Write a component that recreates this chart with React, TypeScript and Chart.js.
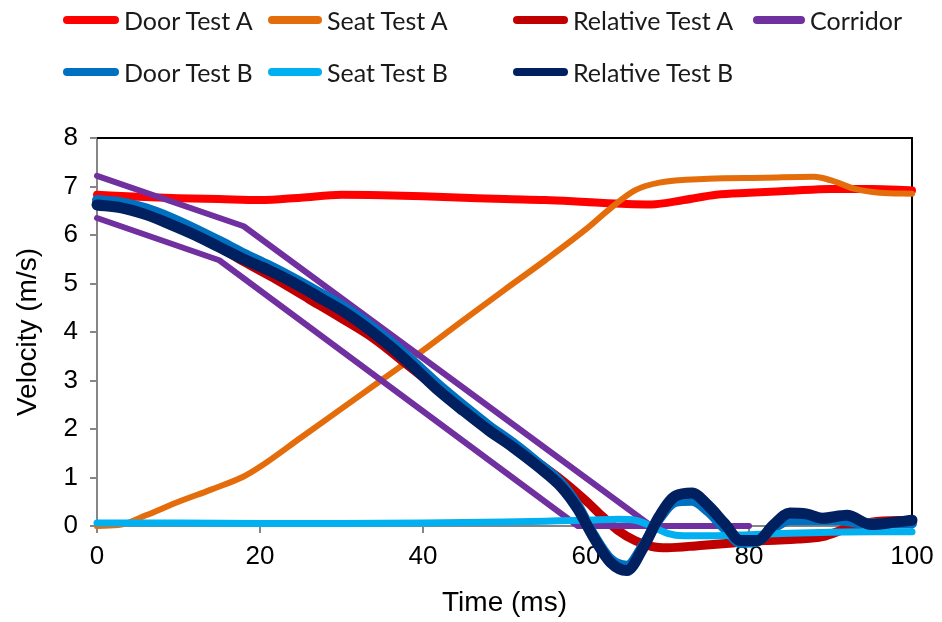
import React, { useEffect, useRef } from "react";
import { Chart, registerables } from "chart.js";

Chart.register(...registerables);

// ---- Data (time in ms, velocity in m/s) ----
const timeTicks = [0, 20, 40, 60, 80, 100];
const velocityTicks = [0, 1, 2, 3, 4, 5, 6, 7, 8];

const doorATime = [0, 5, 10, 15, 20, 25, 30, 35, 40, 45, 50, 55, 60, 65, 68, 72, 76, 80, 85, 90, 95, 100];
const doorAVel = [6.83, 6.79, 6.76, 6.74, 6.72, 6.77, 6.83, 6.82, 6.8, 6.77, 6.74, 6.72, 6.68, 6.64, 6.63, 6.72, 6.83, 6.87, 6.91, 6.95, 6.95, 6.92];

const seatATime = [0, 3, 6, 10, 14, 18, 20, 25, 30, 35, 40, 45, 50, 55, 60, 63, 66, 69, 75, 82, 88, 90, 93, 96, 100];
const seatAVel = [0, 0.03, 0.22, 0.5, 0.75, 1.02, 1.22, 1.82, 2.42, 3.02, 3.62, 4.25, 4.87, 5.48, 6.12, 6.55, 6.92, 7.08, 7.16, 7.18, 7.2, 7.13, 6.95, 6.87, 6.85];

const relATime = [0, 3, 6, 10, 14, 18, 22, 26, 30, 34, 38, 42, 46, 50, 54, 57, 60, 62, 64, 66, 68, 70, 74, 78, 82, 86, 89, 92, 95, 100];
const relAVel = [6.72, 6.64, 6.48, 6.2, 5.86, 5.45, 5.08, 4.68, 4.28, 3.86, 3.33, 2.8, 2.28, 1.8, 1.32, 0.95, 0.52, 0.2, -0.1, -0.3, -0.42, -0.45, -0.4, -0.35, -0.3, -0.27, -0.22, -0.05, 0.08, 0.12];

const corridorUpperTime = [0, 18, 68, 80];
const corridorUpperVel = [7.22, 6.18, 0, 0];
const corridorLowerTime = [0, 15, 59, 80];
const corridorLowerVel = [6.35, 5.48, 0, 0];

const doorBTime = [0, 3, 6, 9, 12, 15, 18, 21, 24, 27, 30, 33, 36, 39, 42, 45, 48, 51, 54, 57, 59, 61, 63, 65, 67, 69, 71, 73, 75, 77, 79, 81, 83, 85, 88, 91, 94, 97, 100];
const doorBVel = [6.72, 6.67, 6.55, 6.36, 6.13, 5.88, 5.62, 5.38, 5.12, 4.84, 4.55, 4.2, 3.8, 3.36, 2.9, 2.48, 2.08, 1.72, 1.32, 0.88, 0.42, -0.2, -0.68, -0.82, -0.4, 0.15, 0.5, 0.52, 0.3, -0.05, -0.35, -0.32, -0.05, 0.12, 0.12, 0.12, 0.05, 0.05, 0.05];

const seatBTime = [0, 10, 20, 30, 40, 50, 55, 60, 64, 66, 68, 70, 72, 76, 80, 85, 90, 95, 100];
const seatBVel = [0.06, 0.06, 0.05, 0.05, 0.06, 0.08, 0.1, 0.12, 0.14, 0.12, 0.0, -0.15, -0.2, -0.2, -0.18, -0.15, -0.13, -0.12, -0.12];

const relBTime = [0, 3, 6, 9, 12, 15, 18, 21, 24, 27, 30, 33, 36, 39, 42, 45, 48, 51, 54, 57, 59, 61, 63, 65, 67, 69, 71, 73, 75, 77, 79, 81, 83, 85, 87, 89, 92, 95, 98, 100];
const relBVel = [6.62, 6.56, 6.42, 6.22, 6.0, 5.75, 5.5, 5.28, 5.03, 4.74, 4.45, 4.1, 3.7, 3.25, 2.78, 2.37, 1.98, 1.63, 1.24, 0.8, 0.35, -0.25, -0.75, -0.92, -0.45, 0.2, 0.62, 0.68, 0.42, 0.05, -0.3, -0.3, 0.02, 0.27, 0.25, 0.16, 0.22, 0.03, 0.08, 0.12];

const seriesNames = ["Door Test A", "Seat Test A", "Relative Test A", "Corridor", "Door Test B", "Seat Test B", "Relative Test B"];
const seriesColors = ["#FF0000", "#E46C0A", "#C00000", "#7030A0", "#0070C0", "#00B0F0", "#002060"];

const pts = (t: number[], v: number[]) => t.map((x, i) => ({ x, y: v[i] }));

// legend layout: [sampleLeft, textLeft, lineCenterY]
const legendPos: number[][] = [
  [63, 124, 20],
  [268, 327, 20],
  [513, 573, 20],
  [753, 810, 20],
  [63, 124, 72],
  [268, 327, 72],
  [513, 573, 72],
];

export default function App() {
  const ref = useRef<HTMLCanvasElement | null>(null);

  useEffect(() => {
    if (!ref.current) return;
    const frame = {
      id: "frame",
      beforeDatasetsDraw(chart: any) {
        const { ctx, chartArea } = chart;
        const { left, right, top, bottom } = chartArea;
        ctx.save();
        ctx.strokeStyle = "#000";
        ctx.lineWidth = 2;
        ctx.beginPath();
        ctx.moveTo(left, top);
        ctx.lineTo(right, top);
        ctx.lineTo(right, bottom);
        ctx.stroke();
        ctx.restore();
      },
    };

    const corridorData = [
      ...pts(corridorUpperTime, corridorUpperVel),
      { x: 80, y: null as any },
      ...pts(corridorLowerTime, corridorLowerVel),
    ];

    const seriesData = [
      pts(doorATime, doorAVel),
      pts(seatATime, seatAVel),
      pts(relATime, relAVel),
      corridorData,
      pts(doorBTime, doorBVel),
      pts(seatBTime, seatBVel),
      pts(relBTime, relBVel),
    ];
    const widths = [8, 6, 9, 6, 10, 7, 11];

    const datasets = seriesData.map((d, i) => ({
      label: seriesNames[i],
      data: d,
      borderColor: seriesColors[i],
      backgroundColor: seriesColors[i],
      borderWidth: widths[i],
      pointRadius: 0,
      pointHoverRadius: 0,
      fill: false,
      clip: false as any,
      spanGaps: false,
      borderCapStyle: "round" as const,
      borderJoinStyle: "round" as const,
      tension: i === 3 ? 0 : 0.4,
      cubicInterpolationMode: i === 3 ? ("default" as const) : ("monotone" as const),
      order: seriesNames.length - 1 - i,
    }));

    const tickFont = { family: "'Liberation Sans', Arial, sans-serif", size: 26 };
    const titleFont = { family: "'Liberation Sans', Arial, sans-serif", size: 28 };

    const chart = new Chart(ref.current, {
      type: "line",
      data: { datasets: datasets as any },
      plugins: [frame],
      options: {
        animation: false,
        responsive: true,
        maintainAspectRatio: false,
        layout: { padding: { left: 0, right: 30, top: 138, bottom: 0 } },
        plugins: { legend: { display: false }, tooltip: { enabled: false } },
        scales: {
          x: {
            type: "linear",
            min: timeTicks[0],
            max: timeTicks[timeTicks.length - 1],
            afterBuildTicks: (s: any) => {
              s.ticks = timeTicks.map((v) => ({ value: v }));
            },
            ticks: { font: tickFont, color: "#000", padding: 8, maxRotation: 0 },
            grid: { drawOnChartArea: false, drawTicks: true, tickLength: 7, color: "#868686", lineWidth: 2 },
            border: { color: "#868686", width: 2 },
            title: { display: true, text: "Time (ms)", font: titleFont, color: "#000", padding: { top: 0, bottom: 2 } },
            afterFit: (s: any) => {
              s.height = 96;
            },
          },
          y: {
            type: "linear",
            min: velocityTicks[0],
            max: velocityTicks[velocityTicks.length - 1],
            afterBuildTicks: (s: any) => {
              s.ticks = velocityTicks.map((v) => ({ value: v }));
            },
            ticks: { font: tickFont, color: "#000", padding: 12 },
            grid: { drawOnChartArea: false, drawTicks: true, tickLength: 7, color: "#868686", lineWidth: 2 },
            border: { color: "#868686", width: 2 },
            title: { display: true, text: "Velocity (m/s)", font: titleFont, color: "#000", padding: { top: 11, bottom: 0 } },
            afterFit: (s: any) => {
              s.width = 97;
            },
          },
        },
      },
    });
    return () => chart.destroy();
  }, []);

  return (
    <div style={{ position: "fixed", left: 0, top: 0, width: 942, height: 622, background: "#fff", overflow: "hidden" }}>
      <div style={{ position: "absolute", left: 0, top: 0, width: 942, height: 622 }}>
        <canvas ref={ref} />
      </div>
      {seriesNames.map((name, i) => {
        const [sx, tx, cy] = legendPos[i];
        return (
          <React.Fragment key={name}>
            <div
              style={{
                position: "absolute",
                left: sx,
                top: cy - 4,
                width: tx - sx - 5,
                height: 8,
                borderRadius: 4,
                background: seriesColors[i],
              }}
            />
            <div
              style={{
                position: "absolute",
                left: tx,
                top: cy - 15,
                height: 30,
                lineHeight: "30px",
                fontFamily: "Lato, 'Noto Sans', sans-serif",
                fontSize: 25,
                color: "#1a1a1a",
                whiteSpace: "nowrap",
              }}
            >
              {name}
            </div>
          </React.Fragment>
        );
      })}
    </div>
  );
}
